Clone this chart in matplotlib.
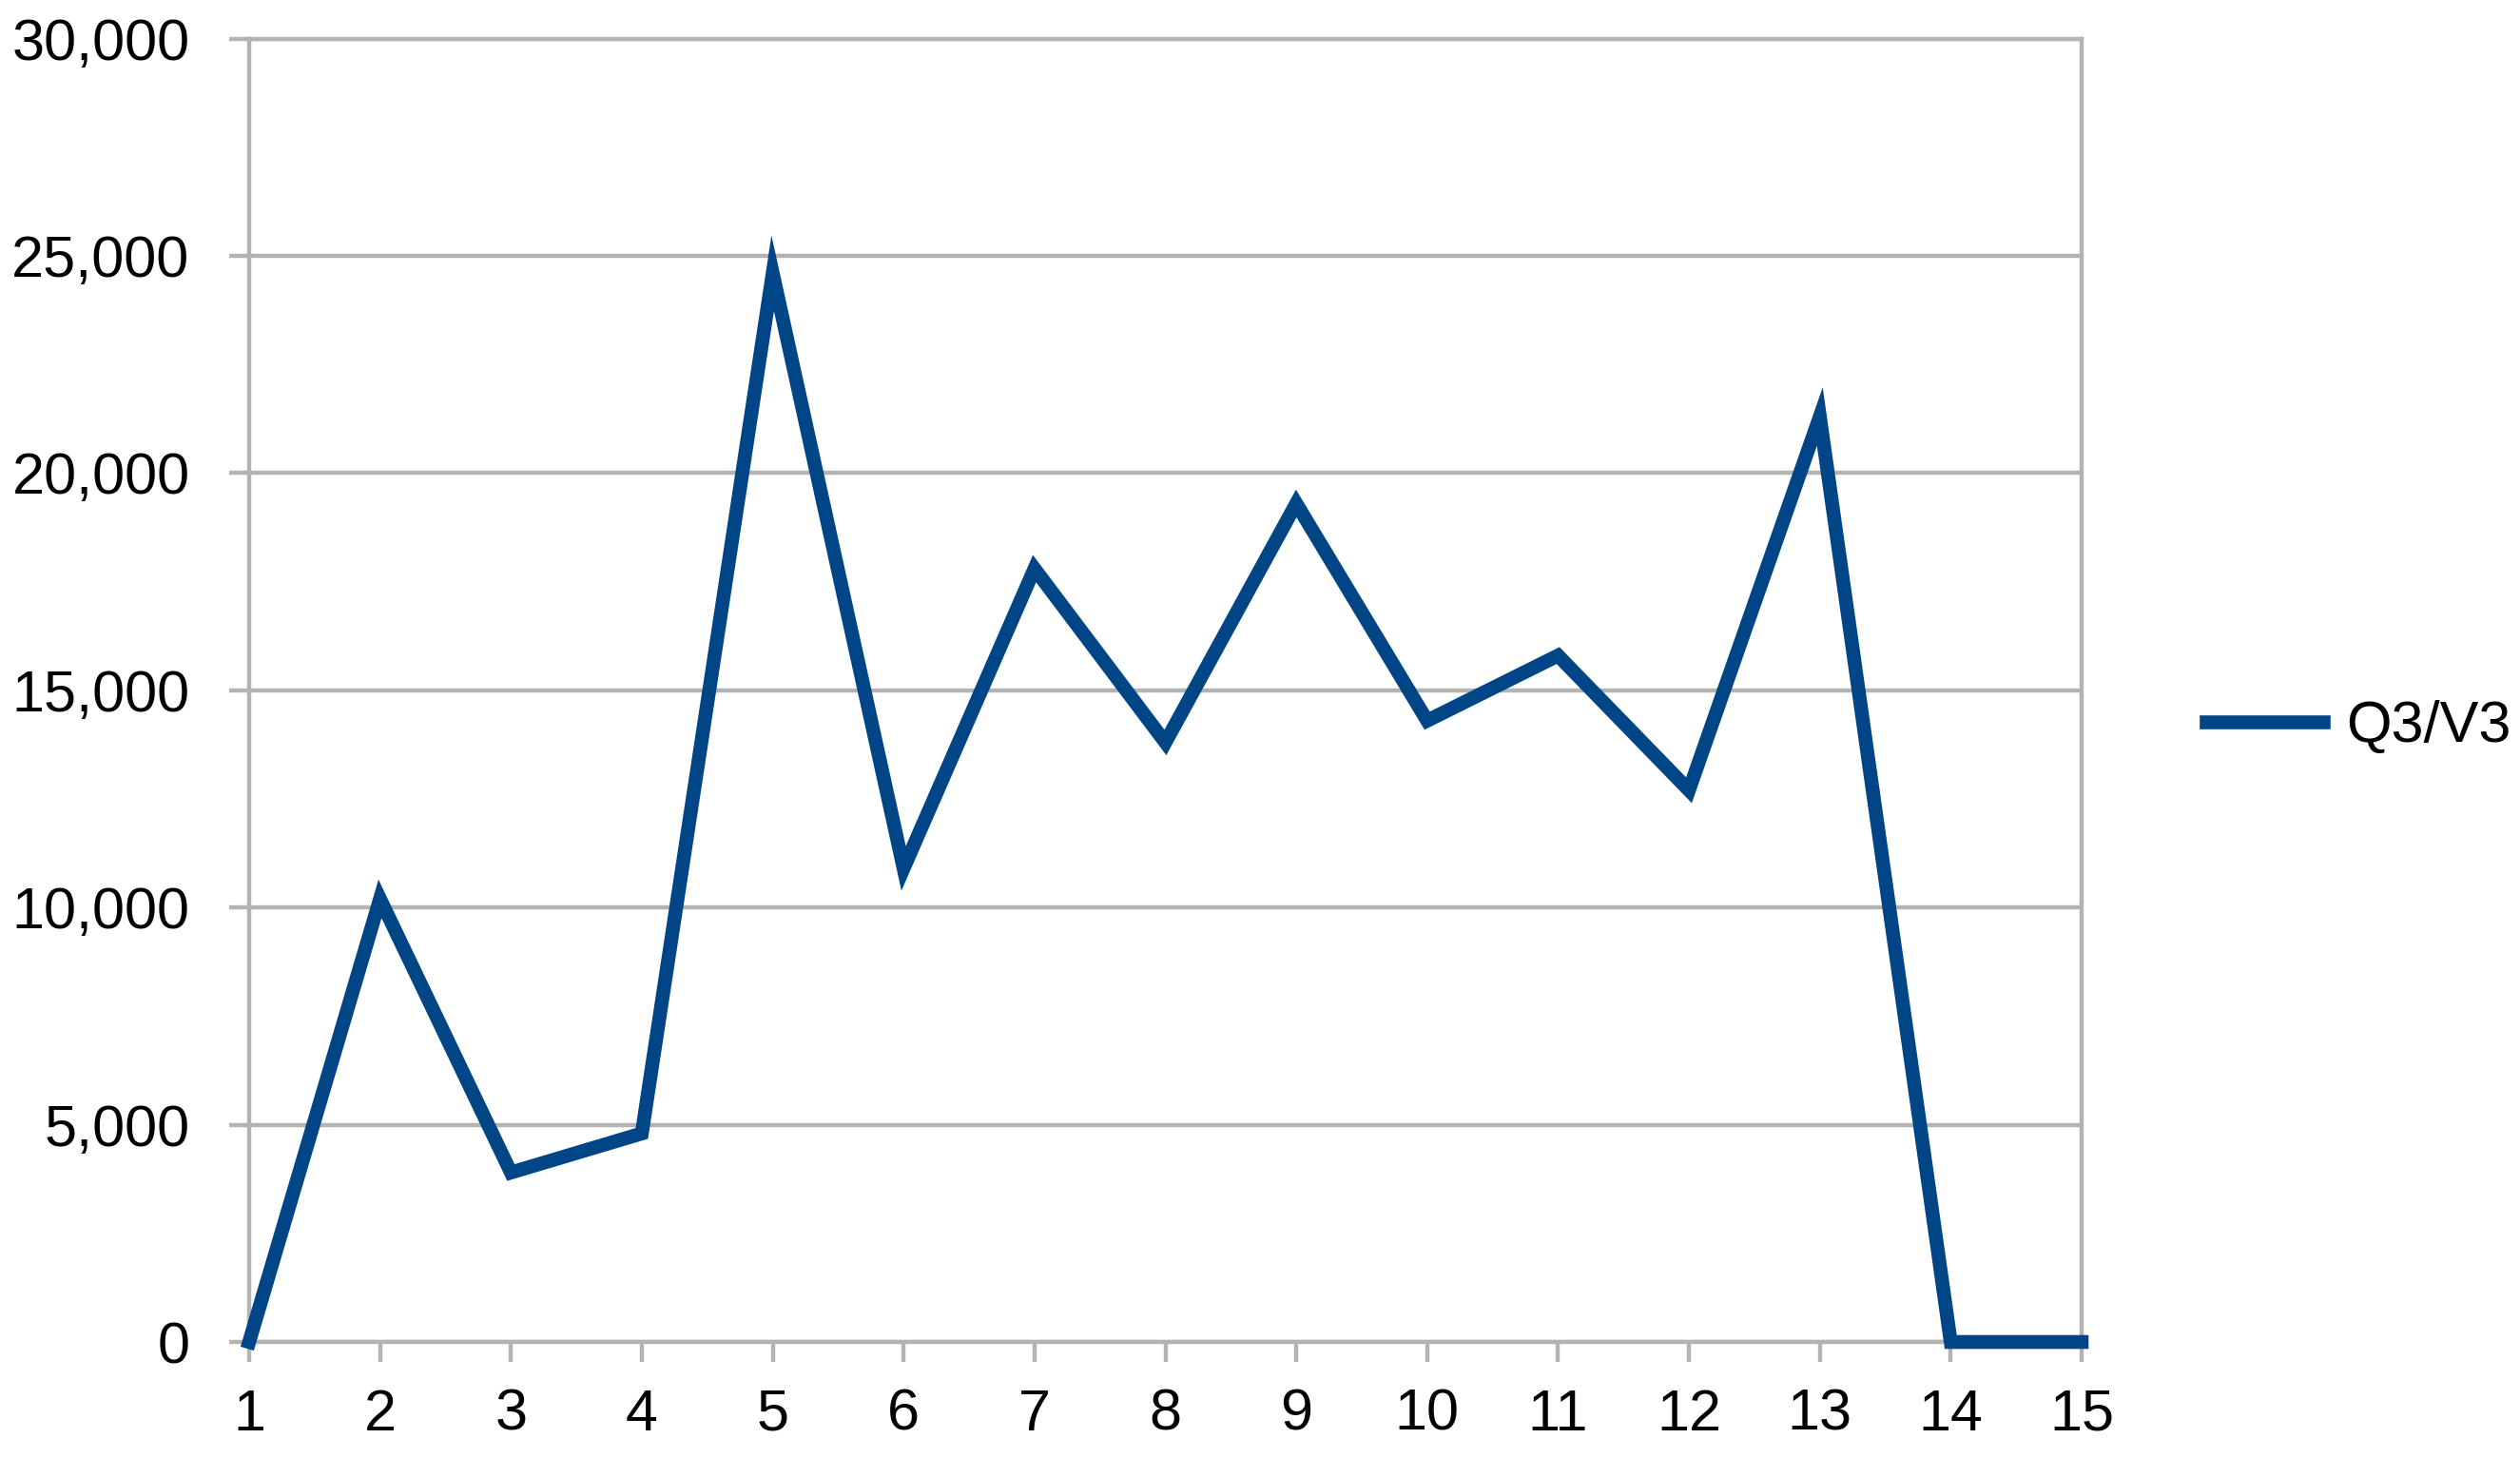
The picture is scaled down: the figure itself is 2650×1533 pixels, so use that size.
import matplotlib
matplotlib.use("Agg")
import matplotlib.pyplot as plt
from matplotlib.ticker import FuncFormatter

x_values = list(range(1, 16))
series_q3v3 = [0, 10200, 3900, 4800, 24600, 10900, 17800, 13800, 19300, 14300, 15800, 12700, 21300, 0, 0]
series_label = "Q3/V3"
y_ticks = [0, 5000, 10000, 15000, 20000, 25000, 30000]

plt.rcParams['font.family'] = ['Liberation Sans', 'DejaVu Sans']

fig = plt.figure(figsize=(26.5, 15.33), dpi=100)
ax = fig.add_axes([262/2650, 1 - 1411/1533, (2189 - 262)/2650, (1411 - 40.6)/1533])

grid_color = '#b3b3b3'
line, = ax.plot(x_values, series_q3v3, color='#004586', linewidth=10.5,
                solid_joinstyle='miter', clip_on=False, zorder=3, label=series_label)

ax.set_xlim(1, 15)
ax.set_ylim(0, 30000)
ax.set_xticks(x_values)
ax.set_yticks(y_ticks)
ax.yaxis.set_major_formatter(FuncFormatter(lambda v, p: f"{int(v):,}"))
ax.grid(axis='y', color=grid_color, linewidth=3.2)
ax.set_axisbelow(True)
for s in ax.spines.values():
    s.set_color(grid_color)
    s.set_linewidth(3.2)
ax.tick_params(axis='both', colors=grid_color, labelcolor='black', labelsize=44,
               length=15, width=3.2, direction='out')
ax.tick_params(axis='x', pad=20)
ax.tick_params(axis='y', pad=30)

leg = ax.legend(loc='center left', bbox_to_anchor=(2296/2650, 1 - 765/1533), bbox_transform=fig.transFigure,
                frameon=False, fontsize=44, handlelength=2.0, handletextpad=0.4, borderaxespad=0)

fig.savefig('out.png', dpi=100, facecolor='white')
